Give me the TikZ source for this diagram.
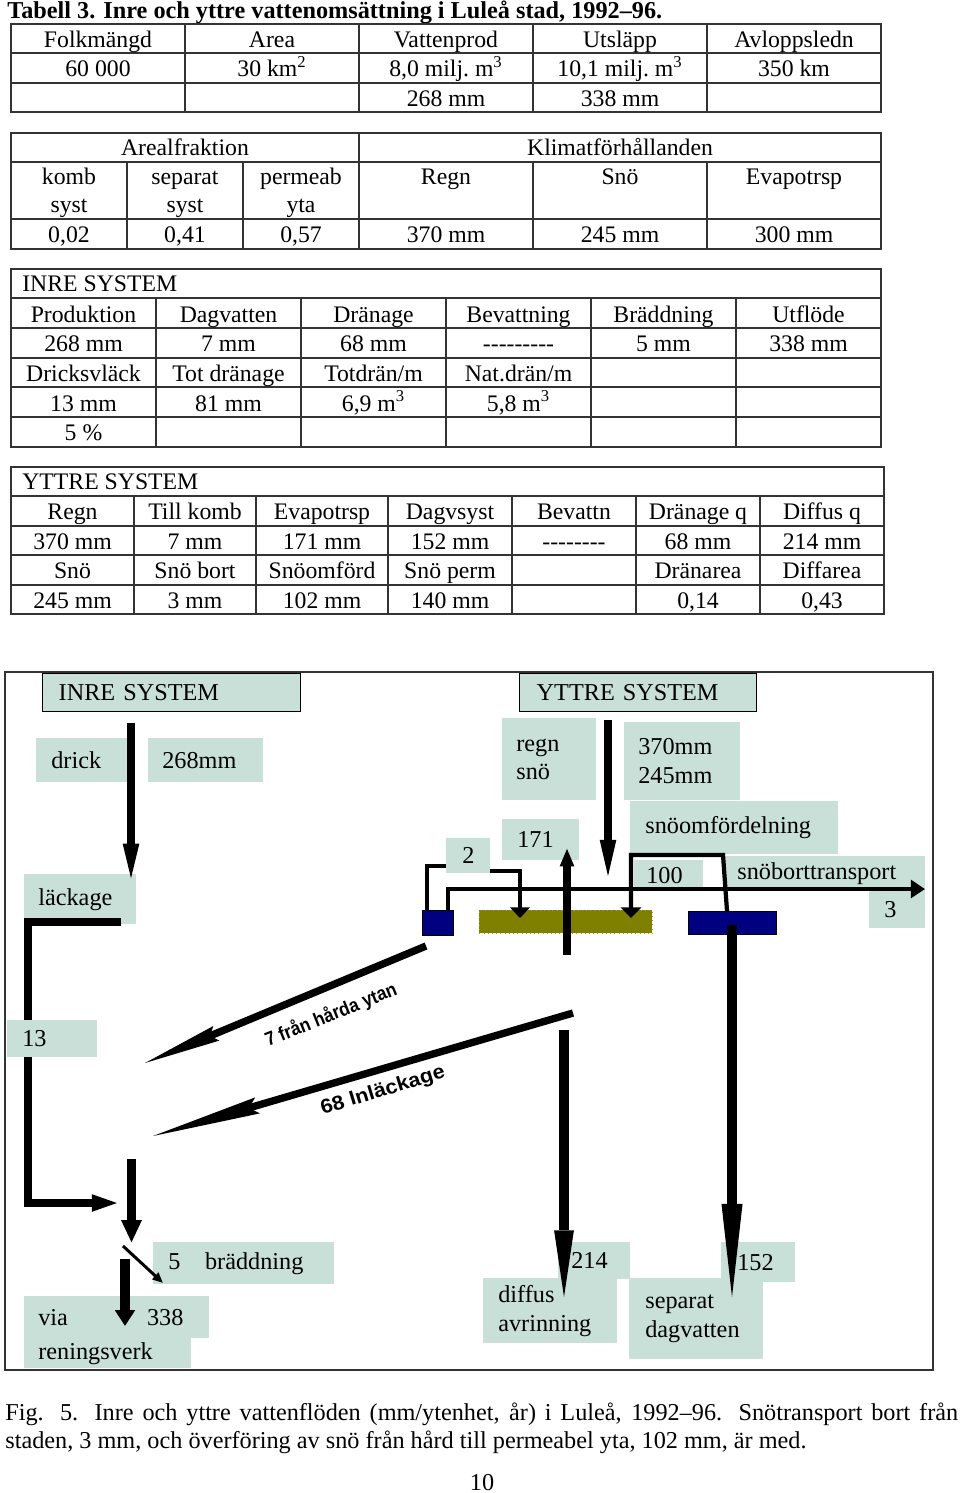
\documentclass[tikz,border=0pt]{standalone}
\usepackage{fontspec}
\setmainfont{Liberation Serif}
\newfontfamily\labelsans{Liberation Sans}
\usetikzlibrary{positioning, arrows.meta, calc}
\definecolor{boxfill}{RGB}{200,224,216}
\definecolor{pipeblue}{RGB}{0,0,128}
\definecolor{soilolive}{RGB}{128,128,0}
\newcommand{\tabfont}{\fontsize{13.5}{15.9}\selectfont}
\newcommand{\diagfont}{\fontsize{13.8}{16.4}\selectfont}

\begin{document}
\begin{tikzpicture}[x=0.02cm, y=-0.02cm,
    cell/.style={inner sep=0pt, anchor=base, font=\tabfont},
    grid/.style={line width=0.9pt, black!80},
    lbl/.style={fill=boxfill, inner ysep=0pt, align=left, anchor=north west, font=\diagfont},
    flow/.style={line width=4.2pt},
    pipe/.style={line width=2.4pt},
    tank/.style={anchor=north west, inner sep=0pt, draw=black, line width=0.4pt}
  ]
  \fill[white] (0,0) rectangle (960,1493);
  \useasboundingbox (0,0) rectangle (960,1493);

  \node[anchor=base west, inner sep=0pt, font=\fontsize{13.8}{15}\selectfont\bfseries] (title) at (7,19) {Tabell 3. Inre och yttre vattenomsättning i Luleå stad, 1992--96.};

  % table 1
  \draw[grid] (11,24) rectangle (881,112);
  \foreach \y in {53,83} \draw[grid] (11,\y) -- (881,\y);
  \foreach \x in {185,359,533,707} \draw[grid] (\x,24) -- (\x,112);
  \foreach \x/\txt [count=\c] in {98/Folkmängd, 272/Area, 446/Vattenprod, 620/Utsläpp, 794/Avloppsledn}
    \node[cell] (pa\c) at (\x,48) {\txt};
  \foreach \x/\txt [count=\c] in {98/60 000, 272/{30 km\textsuperscript{2}}, 446/{8,0 milj.\ m\textsuperscript{3}}, 620/{10,1 milj.\ m\textsuperscript{3}}, 794/350 km}
    \node[cell] (pb\c) at (\x,77) {\txt};
  \node[cell] (pc3) at (446,107) {268 mm};
  \node[cell] (pc4) at (620,107) {338 mm};

  % table 2
  \draw[grid] (11,133) rectangle (881,249);
  \draw[grid] (11,162) -- (881,162);
  \draw[grid] (11,219) -- (881,219);
  \draw[grid] (359,133) -- (359,249);
  \foreach \x in {127,243,533,707} \draw[grid] (\x,162) -- (\x,249);
  \node[cell] (areal) at (185,156) {Arealfraktion};
  \node[cell] (klimat) at (620,156) {Klimatförhållanden};
  \foreach \x/\txt [count=\c] in {69/komb, 185/separat, 301/permeab, 446/Regn, 620/Snö, 794/Evapotrsp}
    \node[cell] (qa\c) at (\x,185) {\txt};
  \foreach \x/\txt [count=\c] in {69/syst, 185/syst, 301/yta}
    \node[cell] (qb\c) at (\x,213) {\txt};
  \foreach \x/\txt [count=\c] in {69/{0,02}, 185/{0,41}, 301/{0,57}, 446/370 mm, 620/245 mm, 794/300 mm}
    \node[cell] (qc\c) at (\x,243) {\txt};

  % table 3
  \draw[grid] (11,269) rectangle (881,447);
  \foreach \y in {298,328,358,387,417} \draw[grid] (11,\y) -- (881,\y);
  \foreach \x in {156,301,446,591,736} \draw[grid] (\x,298) -- (\x,447);
  \node[cell, anchor=base west] (inrehead) at (22,292) {INRE SYSTEM};
  \foreach \x/\txt [count=\c] in {83.5/Produktion, 228.5/Dagvatten, 373.5/Dränage, 518.5/Bevattning, 663.5/Bräddning, 808.5/Utflöde}
    \node[cell] (ra\c) at (\x,322) {\txt};
  \foreach \x/\txt [count=\c] in {83.5/268 mm, 228.5/7 mm, 373.5/68 mm, 518.5/{-{}-{}-{}-{}-{}-{}-{}-{}-}, 663.5/5 mm, 808.5/338 mm}
    \node[cell] (rb\c) at (\x,351) {\txt};
  \foreach \x/\txt [count=\c] in {83.5/Dricksvläck, 228.5/Tot dränage, 373.5/{Totdrän/m}, 518.5/{Nat.drän/m}}
    \node[cell] (rc\c) at (\x,381) {\txt};
  \foreach \x/\txt [count=\c] in {83.5/13 mm, 228.5/81 mm, 373.5/{6,9 m\textsuperscript{3}}, 518.5/{5,8 m\textsuperscript{3}}}
    \node[cell] (rd\c) at (\x,411) {\txt};
  \node[cell] (re1) at (83.5,440) {5 \%};

  % table 4
  \draw[grid] (11,467) rectangle (884,614);
  \foreach \y in {496,526,555,585} \draw[grid] (11,\y) -- (884,\y);
  \foreach \x in {134,256,388,512,636,760} \draw[grid] (\x,496) -- (\x,614);
  \node[cell, anchor=base west] (yttrehead) at (22,489) {YTTRE SYSTEM};
  \foreach \x/\txt [count=\c] in {72.5/Regn, 195/Till komb, 322/Evapotrsp, 450/Dagvsyst, 574/Bevattn, 698/Dränage q, 822/Diffus q}
    \node[cell] (sa\c) at (\x,519) {\txt};
  \foreach \x/\txt [count=\c] in {72.5/370 mm, 195/7 mm, 322/171 mm, 450/152 mm, 574/{-{}-{}-{}-{}-{}-{}-{}-}, 698/68 mm, 822/214 mm}
    \node[cell] (sb\c) at (\x,549) {\txt};
  \foreach \x/\txt [count=\c] in {72.5/Snö, 195/Snö bort, 322/Snöomförd, 450/Snö perm, 698/Dränarea, 822/Diffarea}
    \node[cell] (sc\c) at (\x,578) {\txt};
  \foreach \x/\txt [count=\c] in {72.5/245 mm, 195/3 mm, 322/102 mm, 450/140 mm, 698/{0,14}, 822/{0,43}}
    \node[cell] (sd\c) at (\x,608) {\txt};

  % diagram
  \draw[line width=0.9pt, black!80] (5,672) rectangle (933,1370);

  \node[lbl, draw=black, line width=0.8pt, inner xsep=0.32cm, text width=4.52cm, minimum height=0.76cm] (inre) at (42,673) {INRE SYSTEM};
  \node[lbl, inner xsep=0.30cm, text width=1.24cm, minimum height=0.88cm] (drick) at (36,738) {drick};
  \node[lbl, inner xsep=0.28cm, text width=1.74cm, minimum height=0.88cm] (prod) at (148,738) {268mm};
  \node[lbl, inner xsep=0.28cm, text width=1.68cm, minimum height=1.0cm] (lack) at (24,874) {läckage};
  \node[lbl, inner xsep=0.30cm, text width=3.02cm, minimum height=0.84cm] (bradd) at (153,1242) {5\hspace{14pt}bräddning};
  \node[lbl, inner xsep=0.28cm, text width=3.14cm, minimum height=0.84cm] (via) at (24,1296) {via\hspace{45pt}338};
  \node[lbl, inner xsep=0.28cm, text width=2.78cm, minimum height=0.6cm] (ren) at (24,1338) {reningsverk};

  \node[lbl, draw=black, line width=0.8pt, inner xsep=0.34cm, text width=4.06cm, minimum height=0.76cm] (yttre) at (519,673) {YTTRE SYSTEM};
  \node[lbl, inner xsep=0.28cm, text width=1.32cm, minimum height=1.64cm] (regn) at (502,718) {regn\\snö};
  \node[lbl, inner xsep=0.28cm, text width=1.76cm, minimum height=1.56cm] (nederb) at (624,722) {370mm\\245mm};
  \node[lbl, inner xsep=0.30cm, text width=3.56cm, minimum height=1.06cm] (omf) at (630,801) {snöomfördelning};
  \node[lbl, inner xsep=0.30cm, text width=0.94cm, minimum height=0.82cm] (evap) at (502,819) {171};
  \node[lbl, inner xsep=0.32cm, text width=0.24cm, minimum height=0.70cm] (till) at (446,838) {2};
  \node[lbl, inner xsep=0.24cm, text width=0.9cm, minimum height=0.6cm] (hundra) at (634,860) {100};
  \node[lbl, inner xsep=0.24cm, text width=3.52cm, minimum height=0.68cm] (bort) at (725,856) {snöborttransport};
  \node[lbl, inner xsep=0.30cm, text width=0.52cm, minimum height=0.76cm] (tre) at (869,890) {3};
  \node[lbl, inner xsep=0.26cm, text width=0.92cm, minimum height=0.74cm] (diffq) at (558,1242) {214};
  \node[lbl, inner xsep=0.30cm, text width=2.08cm, minimum height=1.3cm] (diff) at (483,1278) {diffus\\avrinning};
  \node[lbl, inner xsep=0.32cm, text width=0.84cm, minimum height=0.80cm] (sepq) at (721,1242) {152};
  \node[lbl, inner xsep=0.32cm, text width=2.04cm, minimum height=1.62cm] (sep) at (629,1278) {separat\\dagvatten};

  \node[tank, fill=pipeblue, minimum width=0.62cm, minimum height=0.5cm] (brunn) at (422,910) {};
  \node[tank, fill=soilolive, draw=yellow!60!black, dotted, minimum width=3.46cm, minimum height=0.46cm] (perm) at (479,910) {};
  \node[tank, fill=pipeblue, minimum width=1.76cm, minimum height=0.46cm] (dagv) at (688,911) {};

  % inre system
  \coordinate (drickTop) at (131,723);
  \coordinate (drickTip) at (131,884);
  \draw[flow, -{Triangle[length=23pt,width=8pt]}] (drickTop) -- (drickTip);
  \coordinate (lackStart) at (121,922);
  \coordinate (lackLeft) at (28,922);
  \coordinate (lackLow) at (28,1203);
  \coordinate (lackTip) at (120,1203);
  \draw[line width=5pt, -{Triangle[length=16pt,width=8.5pt]}] (lackStart) -- (lackLeft) -- (lackLow) -- (lackTip);
  \node[lbl, inner xsep=0.30cm, text width=1.2cm, minimum height=0.74cm] (dl) at (7,1020) {13};
  \coordinate (avlTop) at (131.5,1159);
  \coordinate (avlTip) at (131.5,1243);
  \draw[line width=5.3pt, -{Triangle[length=13pt,width=10.8pt]}] (avlTop) -- (avlTip);
  \coordinate (braddStart) at (123,1246);
  \coordinate (braddTip) at (163,1283);
  \draw[line width=1.7pt, -{Triangle[length=6pt,width=5pt]}] (braddStart) -- (braddTip);
  \coordinate (renTop) at (125,1259);
  \coordinate (renTip) at (125,1326);
  \draw[line width=5.7pt, -{Triangle[length=9pt,width=11pt]}] (renTop) -- (renTip);

  % yttre system
  \coordinate (regnTop) at (608,720);
  \coordinate (regnTip) at (608,882);
  \draw[flow, -{Triangle[length=24pt,width=8pt]}] (regnTop) -- (regnTip);
  \coordinate (evapBot) at (567,955);
  \coordinate (evapTip) at (567,848);
  \draw[flow, -{Triangle[length=10.5pt,width=7.5pt]}] (evapBot) -- (evapTip);
  \coordinate (brunnOut) at (448,910);
  \coordinate (mainCorner) at (448,889);
  \coordinate (bortTip) at (925,889);
  \draw[pipe, -{Triangle[length=8pt,width=10pt]}] (brunnOut) -- (mainCorner) -- (bortTip);
  \coordinate (tillA) at (427,910);
  \coordinate (tillB) at (427,866);
  \draw[pipe] (tillA) -- (tillB) -- (tillB -| till.west);
  \coordinate (tillD) at (490,871);
  \coordinate (tillE) at (520,871);
  \coordinate (tillTip) at (520,918);
  \draw[pipe, -{Triangle[length=6pt,width=11pt]}] (tillD) -- (tillE) -- (tillTip);
  \coordinate (omfA) at (727,911);
  \coordinate (omfB) at (723,855);
  \coordinate (omfC) at (631,855);
  \coordinate (omfTip) at (631,918);
  \draw[pipe, -{Triangle[length=6pt,width=11.5pt]}] (omfA) -- (omfB) -- (omfC) -- (omfTip);

  \coordinate (hardStart) at (426,946);
  \coordinate (hardTip) at (145,1063);
  \draw[flow, -{Stealth[length=44pt,width=9pt,inset=4pt,line width=0pt]}] (hardStart) -- (hardTip);
  \node[rotate=22, font=\labelsans\bfseries\fontsize{11}{13}\selectfont] (hardLbl) at (331,1015) {\scalebox{0.9}[1]{7 från hårda ytan}};
  \coordinate (inlStart) at (573,1013);
  \coordinate (inlTip) at (153,1136);
  \draw[flow, -{Stealth[length=62pt,width=9.5pt,inset=5pt,line width=0pt]}] (inlStart) -- (inlTip);
  \node[rotate=17, font=\labelsans\bfseries\fontsize{11.4}{13}\selectfont] (inlLbl) at (383,1091) {\scalebox{1.08}[1]{68 Inläckage}};

  \coordinate (diffTop) at (564,1030);
  \coordinate (diffTip) at (564,1297);
  \draw[line width=5.8pt, -{Triangle[length=38pt,width=11.3pt,line width=0pt]}] (diffTop) -- (diffTip);
  \coordinate (sepTop) at (732,925);
  \coordinate (sepTip) at (732,1297);
  \draw[line width=6pt, -{Triangle[length=53pt,width=12pt,line width=0pt]}] (sepTop) -- (sepTip);

  % caption
  \node[anchor=base west, inner sep=0pt, font=\diagfont] (cap1) at (5,1420) {\makebox[19.06cm][s]{Fig. 5. Inre och yttre vattenflöden (mm/ytenhet, år) i Luleå, 1992--96. Snötransport bort från}};
  \node[anchor=base west, inner sep=0pt, font=\diagfont] (cap2) at (5,1448) {staden, 3 mm, och överföring av snö från hård till permeabel yta, 102 mm, är med.};
  \node[anchor=base, inner sep=0pt, font=\diagfont] (page) at (482,1490) {10};
\end{tikzpicture}
\end{document}
